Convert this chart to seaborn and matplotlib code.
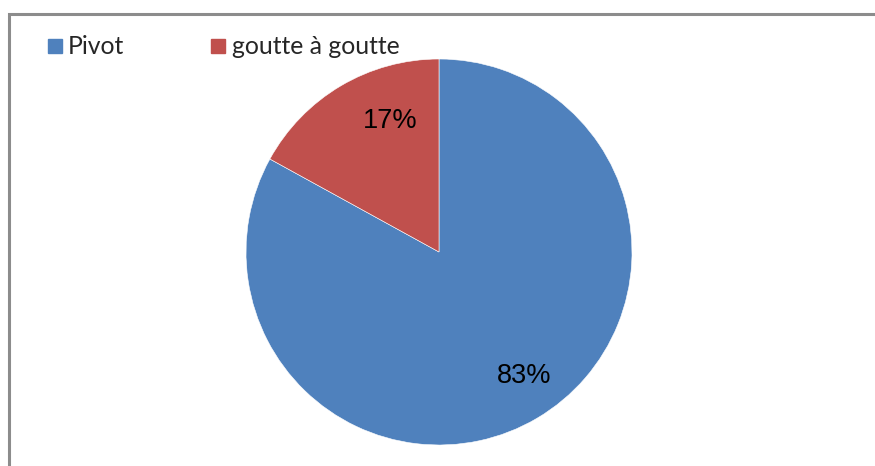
import matplotlib
matplotlib.use("Agg")
import matplotlib.pyplot as plt
from matplotlib.patches import Rectangle
from matplotlib.lines import Line2D
import seaborn as sns

categories = ["Pivot", "goutte à goutte"]
shares = [83, 17]
colors = ["#4F81BD", "#C0504D"]

sns.set_theme(style="white")
plt.rcParams["font.family"] = ["Liberation Sans", "DejaVu Sans"]

W, H, DPI = 875, 466, 100
fig = plt.figure(figsize=(W / DPI, H / DPI), dpi=DPI)
fig.patch.set_facecolor("white")

# chart-area frame (runs off the right and bottom edges)
fig.add_artist(Rectangle((8.5 / W, -0.05), 1.2, (H - 13.5) / H + 0.05,
                         transform=fig.transFigure, fill=False,
                         edgecolor="#8C8C8C", linewidth=2.2))

cx, cy, r = 439, 252, 193
ax = fig.add_axes([(cx - r) / W, (H - cy - r) / H, 2 * r / W, 2 * r / H])
wedges, texts, autotexts = ax.pie(
    shares, colors=colors, startangle=90, counterclock=False,
    autopct="%d%%", pctdistance=0.74,
    wedgeprops=dict(edgecolor="white", linewidth=0.4),
    textprops=dict(fontsize=19.5, color="black"),
)
# percentage labels placed inside their slices, as in the office chart layout
label_pos = [(0.44, -0.645), (-0.255, 0.68)]
for t, pos in zip(autotexts, label_pos):
    t.set_position(pos)

ax.set_xlim(-1, 1)
ax.set_ylim(-1, 1)
ax.set_aspect("equal")
ax.axis("off")

handles = [Line2D([0], [0], marker="s", linestyle="none", markersize=10,
                  markerfacecolor=c, markeredgecolor=c) for c in colors]
fig.legend(handles, categories, loc="upper left",
           bbox_to_anchor=(20 / W, 1 - 13 / H), ncol=2, frameon=False,
           handletextpad=0.05, columnspacing=3.3, handlelength=1.0,
           prop=dict(family=["Lato", "DejaVu Sans"], size=17.8))

fig.savefig("out.png", dpi=DPI, facecolor="white")
